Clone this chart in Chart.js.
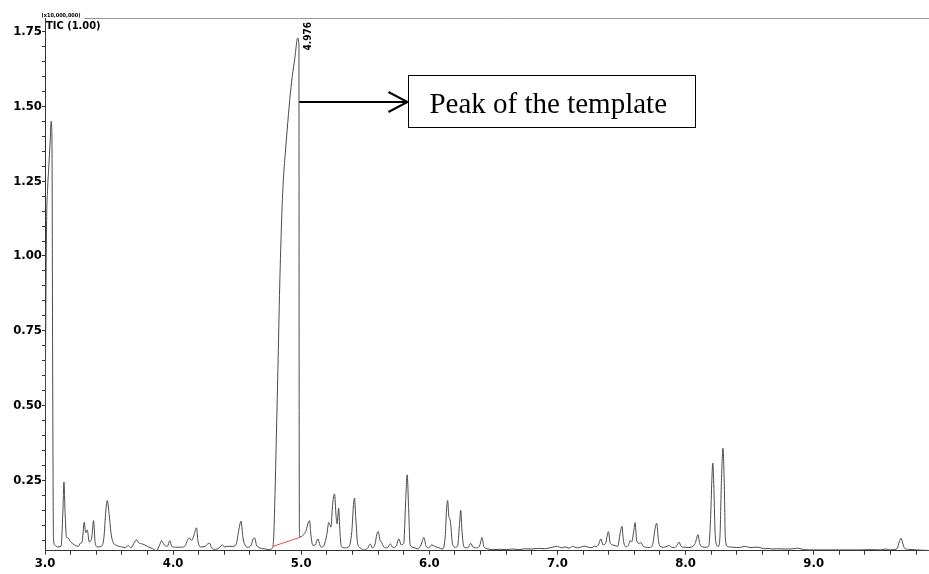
<!DOCTYPE html>
<html><head><meta charset="utf-8">
<script src="https://cdn.jsdelivr.net/npm/chart.js@4.4.1/dist/chart.umd.min.js"></script>
<style>html,body{margin:0;padding:0;background:#fff}#wrap{width:929px;height:574px;position:relative}</style>
</head><body><div id="wrap"><canvas id="c" width="929" height="574"></canvas></div>
<script>
// Retention time (min) and TIC intensity (x10,000,000)
const retentionTimes = [
 3.000,3.012,3.020,3.030,3.040,3.048,3.054,3.060,3.066,3.075,3.100,3.125,3.140,3.148,3.156,3.168,3.180,3.200,3.230,3.260,
 3.275,3.290,3.306,3.318,3.330,3.345,3.365,3.379,3.392,3.410,3.440,3.460,3.475,3.486,3.500,3.515,3.530,3.560,3.600,3.630,
 3.650,3.670,3.700,3.715,3.730,3.760,3.800,3.840,3.870,3.895,3.910,3.930,3.955,3.974,3.990,4.020,4.060,4.090,4.125,4.145,
 4.165,4.182,4.195,4.215,4.250,4.270,4.286,4.300,4.330,4.360,4.385,4.400,4.430,4.460,4.490,4.515,4.530,4.545,4.560,4.585,
 4.610,4.625,4.637,4.650,4.670,4.710,4.750,4.775,4.785,4.795,4.805,4.818,4.832,4.847,4.860,4.875,4.890,4.910,4.930,4.950,
 4.972,4.982,4.984,4.987,5.000,5.020,5.040,5.055,5.065,5.075,5.091,5.110,5.130,5.145,5.157,5.180,5.200,5.215,5.225,5.232,
 5.245,5.260,5.272,5.280,5.292,5.302,5.313,5.340,5.370,5.395,5.408,5.416,5.425,5.440,5.460,5.494,5.520,5.538,5.555,5.575,
 5.590,5.601,5.615,5.625,5.645,5.670,5.697,5.715,5.740,5.762,5.780,5.800,5.815,5.827,5.838,5.850,5.880,5.910,5.935,5.957,
 5.975,5.995,6.019,6.040,6.070,6.105,6.125,6.135,6.143,6.152,6.158,6.165,6.180,6.201,6.220,6.235,6.245,6.255,6.270,6.300,
 6.323,6.340,6.370,6.395,6.411,6.425,6.450,6.494,6.550,6.600,6.650,6.700,6.750,6.800,6.850,6.900,6.950,7.000,7.030,7.060,
 7.090,7.118,7.150,7.180,7.209,7.240,7.270,7.287,7.300,7.320,7.339,7.355,7.375,7.398,7.412,7.430,7.450,7.470,7.490,7.503,
 7.515,7.535,7.555,7.567,7.580,7.595,7.606,7.618,7.635,7.650,7.670,7.690,7.720,7.745,7.762,7.775,7.788,7.800,7.830,7.855,
 7.870,7.890,7.915,7.935,7.949,7.965,7.990,8.020,8.050,8.075,8.097,8.110,8.130,8.160,8.180,8.195,8.205,8.212,8.220,8.230,
 8.242,8.255,8.268,8.280,8.292,8.303,8.310,8.325,8.345,8.365,8.400,8.435,8.460,8.490,8.510,8.550,8.580,8.610,8.650,8.680,
 8.710,8.780,8.850,8.880,8.920,9.000,9.100,9.200,9.300,9.350,9.450,9.520,9.565,9.590,9.620,9.650,9.668,9.682,9.695,9.710,
 9.740,9.800,9.850,9.900
];
const intensities = [
 0.400,1.100,1.220,1.300,1.380,1.450,1.400,0.600,0.060,0.035,0.028,0.030,0.150,0.245,0.150,0.060,0.058,0.045,0.035,0.030,
 0.040,0.045,0.110,0.075,0.085,0.045,0.060,0.116,0.040,0.028,0.030,0.060,0.150,0.183,0.140,0.075,0.045,0.033,0.028,0.026,
 0.033,0.025,0.045,0.052,0.042,0.038,0.030,0.022,0.016,0.035,0.049,0.035,0.030,0.049,0.030,0.027,0.027,0.030,0.058,0.050,
 0.070,0.092,0.045,0.028,0.030,0.038,0.040,0.025,0.020,0.025,0.035,0.028,0.030,0.030,0.035,0.090,0.114,0.060,0.035,0.027,
 0.035,0.055,0.058,0.035,0.026,0.022,0.019,0.025,0.060,0.200,0.380,0.620,0.900,1.120,1.250,1.340,1.420,1.520,1.600,1.660,
 1.728,1.705,0.400,0.062,0.062,0.070,0.085,0.110,0.116,0.070,0.033,0.035,0.055,0.035,0.027,0.035,0.070,0.110,0.100,0.094,
 0.170,0.205,0.130,0.105,0.157,0.080,0.030,0.025,0.028,0.080,0.170,0.191,0.130,0.040,0.025,0.018,0.025,0.038,0.025,0.035,
 0.070,0.080,0.050,0.045,0.028,0.025,0.038,0.026,0.030,0.055,0.035,0.040,0.180,0.269,0.160,0.035,0.026,0.021,0.035,0.060,
 0.030,0.025,0.035,0.030,0.026,0.021,0.070,0.160,0.183,0.130,0.124,0.110,0.040,0.027,0.030,0.100,0.150,0.080,0.028,0.025,
 0.040,0.028,0.025,0.035,0.060,0.030,0.022,0.019,0.020,0.019,0.021,0.019,0.022,0.021,0.023,0.022,0.026,0.030,0.025,0.028,
 0.024,0.030,0.025,0.027,0.031,0.027,0.026,0.031,0.028,0.035,0.055,0.035,0.040,0.079,0.040,0.035,0.032,0.030,0.075,0.097,
 0.050,0.028,0.035,0.049,0.045,0.080,0.109,0.050,0.040,0.042,0.030,0.027,0.026,0.040,0.090,0.107,0.050,0.030,0.027,0.030,
 0.033,0.027,0.026,0.035,0.044,0.030,0.027,0.026,0.028,0.040,0.069,0.040,0.028,0.027,0.030,0.120,0.250,0.308,0.240,0.080,
 0.035,0.030,0.060,0.250,0.358,0.220,0.060,0.030,0.028,0.027,0.026,0.027,0.030,0.027,0.026,0.027,0.026,0.022,0.023,0.021,
 0.022,0.021,0.022,0.024,0.019,0.018,0.018,0.018,0.018,0.018,0.019,0.018,0.021,0.018,0.019,0.022,0.045,0.057,0.040,0.023,
 0.020,0.018,0.017,0.016
];
// Integration baseline of the template peak (red)
const baselineTimes = [4.780, 4.990];
const baselineValues = [0.030, 0.060];
// Tick labels
const xTickLabels = ['3.0','4.0','5.0','6.0','7.0','8.0','9.0'];
const yTickLabels = ['0.25','0.50','0.75','1.00','1.25','1.50','1.75'];
// Texts
const peakTime = 4.976;
const peakLabel = '4.976';
const annotationText = 'Peak of the template';
const headerScale = '(x10,000,000)';
const headerTrace = 'TIC (1.00)';

const AX = {xMin: 3.0, xMax: 9.9, yMin: 0.0154, yMax: 1.795};
const BOX = {x0: 5.837, x1: 8.076, yTop: 1.605, yBot: 1.43, arrowX: 4.985, arrowY: 1.516};
const TICKFONT = {family: '"DejaVu Sans Condensed","DejaVu Sans",sans-serif', size: 13, weight: 'bold'};

function range(a, b, s) { const out = []; for (let i = 0; a + i * s <= b + 1e-9; i++) out.push(+(a + i * s).toFixed(4)); return out; }

const annotPlugin = {
  id: 'annot',
  afterDraw(chart) {
    const {ctx, chartArea: ca, scales: {x, y}} = chart;
    ctx.save();
    // top frame line
    ctx.strokeStyle = '#9a9a9a'; ctx.lineWidth = 1;
    ctx.beginPath(); ctx.moveTo(84, ca.top + 0.5); ctx.lineTo(ca.right, ca.top + 0.5); ctx.stroke();
    // header
    ctx.fillStyle = '#000';
    ctx.textBaseline = 'alphabetic'; ctx.textAlign = 'left';
    ctx.font = 'bold 5.5px "DejaVu Sans Condensed","DejaVu Sans",sans-serif';
    ctx.fillText(headerScale, 41.5, 16.7);
    ctx.font = 'bold 11px "DejaVu Sans Condensed","DejaVu Sans",sans-serif';
    ctx.fillText(headerTrace, 46, 28.5);
    // rotated peak label
    const px = x.getPixelForValue(peakTime);
    ctx.save();
    ctx.translate(px + 12.5, 50.5);
    ctx.rotate(-Math.PI / 2);
    ctx.font = 'bold 10px "DejaVu Sans Condensed","DejaVu Sans",sans-serif';
    ctx.fillText(peakLabel, 0, 0);
    ctx.restore();
    // arrow
    const ax0 = x.getPixelForValue(BOX.arrowX), ay = Math.round(y.getPixelForValue(BOX.arrowY)) + 0;
    const bx0 = x.getPixelForValue(BOX.x0), bx1 = x.getPixelForValue(BOX.x1);
    const by0 = y.getPixelForValue(BOX.yTop), by1 = y.getPixelForValue(BOX.yBot);
    ctx.strokeStyle = '#000'; ctx.lineWidth = 2;
    ctx.beginPath(); ctx.moveTo(ax0, ay); ctx.lineTo(bx0 - 1, ay); ctx.stroke();
    ctx.beginPath(); ctx.moveTo(bx0 - 20, ay - 10); ctx.lineTo(bx0 - 1, ay); ctx.lineTo(bx0 - 20, ay + 10); ctx.stroke();
    // box
    ctx.lineWidth = 1;
    ctx.fillStyle = '#fff';
    ctx.fillRect(bx0, by0, bx1 - bx0, by1 - by0);
    ctx.strokeRect(Math.round(bx0) + 0.5, Math.round(by0) + 0.5, Math.round(bx1 - bx0), Math.round(by1 - by0));
    ctx.fillStyle = '#000';
    ctx.font = '29px "Liberation Serif","Times New Roman",serif';
    ctx.fillText(annotationText, bx0 + 21, by0 + 38);
    ctx.restore();
  }
};

new Chart(document.getElementById('c'), {
  type: 'line',
  data: {
    datasets: [
      {
        data: retentionTimes.map((t, i) => ({x: t, y: intensities[i]})),
        borderColor: '#4a4a4a', borderWidth: 1, pointRadius: 0, fill: false,
        cubicInterpolationMode: 'monotone'
      },
      {
        data: baselineTimes.map((t, i) => ({x: t, y: baselineValues[i]})),
        borderColor: '#f04a4a', borderWidth: 1, pointRadius: 0, fill: false
      }
    ]
  },
  options: {
    responsive: false, animation: false, devicePixelRatio: 1,
    layout: {padding: {top: 18, right: 0, left: 0, bottom: 0}},
    plugins: {legend: {display: false}, tooltip: {enabled: false}},
    scales: {
      x: {
        type: 'linear', min: AX.xMin, max: AX.xMax,
        afterBuildTicks: s => { s.ticks = range(3.0, 9.8, 0.2).map(v => ({value: v})); },
        afterFit: s => { s.height = 23.3; },
        ticks: {
          autoSkip: false, maxRotation: 0, padding: 1, color: '#000', font: TICKFONT,
          callback: v => { const l = v.toFixed(1); return (Math.abs(v - Math.round(v)) < 1e-6 && xTickLabels.includes(l)) ? l : ''; }
        },
        grid: {drawOnChartArea: false, drawTicks: true, tickLength: 4, color: '#333', lineWidth: 1},
        border: {display: true, color: '#333', width: 1}
      },
      y: {
        type: 'linear', min: AX.yMin, max: AX.yMax,
        afterBuildTicks: s => { s.ticks = range(0.05, 1.75, 0.05).map(v => ({value: v})); },
        afterFit: s => { s.width = 45; },
        ticks: {
          autoSkip: false, padding: 0, color: '#000', font: TICKFONT,
          callback: v => { const l = v.toFixed(2); return (Math.abs(v / 0.25 - Math.round(v / 0.25)) < 1e-6 && yTickLabels.includes(l)) ? l : ''; }
        },
        grid: {drawOnChartArea: false, drawTicks: true, tickLength: 3, color: '#333', lineWidth: 1},
        border: {display: true, color: '#333', width: 1}
      }
    }
  },
  plugins: [annotPlugin]
});
</script>
</body></html>
